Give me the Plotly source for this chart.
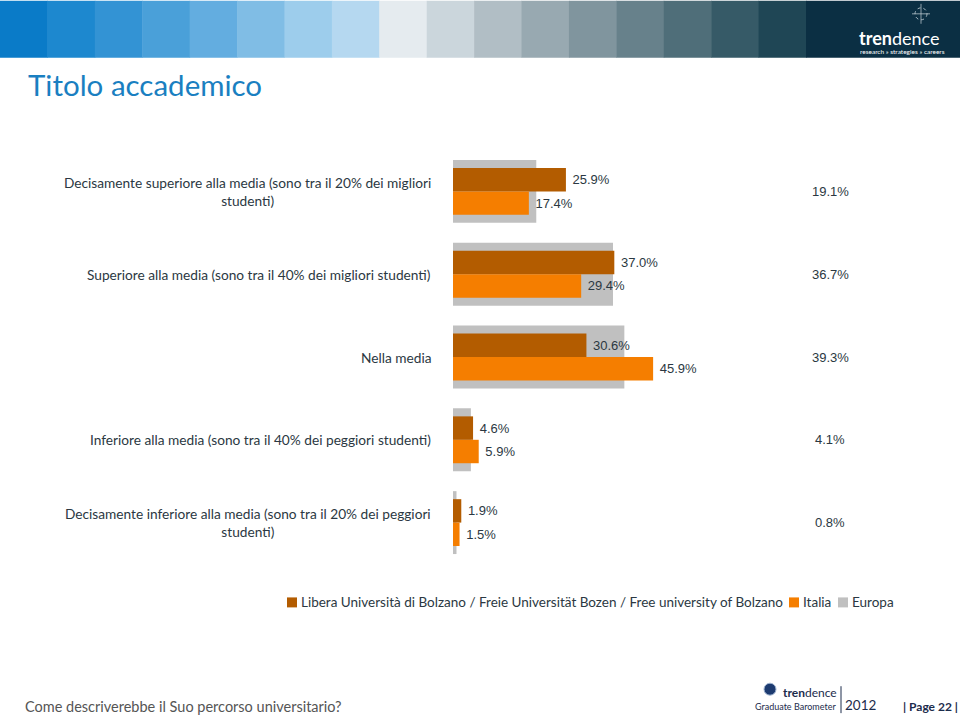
import plotly.graph_objects as go

categories = [
    "Decisamente superiore alla media (sono tra il 20% dei migliori<br>studenti)",
    "Superiore alla media (sono tra il 40% dei migliori studenti)",
    "Nella media",
    "Inferiore alla media (sono tra il 40% dei peggiori studenti)",
    "Decisamente inferiore alla media (sono tra il 20% dei peggiori<br>studenti)",
]
series_names = [
    "Libera Università di Bolzano / Freie Universität Bozen / Free university of Bolzano",
    "Italia",
    "Europa",
]
libera = [25.9, 37.0, 30.6, 4.6, 1.9]
italia = [17.4, 29.4, 45.9, 5.9, 1.5]
europa = [19.1, 36.7, 39.3, 4.1, 0.8]

C_LIB = "#B35C00"
C_ITA = "#F57E00"
C_EUR = "#C0C0C0"
TXT = "#2b3842"

W, H = 960, 717
L, R = 453, 889
T, B = 149.5, 564.5
PW, PH = R - L, B - T


def px(x):
    return (x - L) / PW


def py(y):
    return (B - y) / PH


idx = list(range(len(categories)))

fig = go.Figure()
fig.add_trace(go.Bar(
    y=idx, x=europa, orientation="h", name=series_names[2],
    marker=dict(color=C_EUR, line=dict(width=0)), width=0.76,
    hoverinfo="x", showlegend=False,
))
fig.add_trace(go.Bar(
    y=idx, x=libera, orientation="h", name=series_names[0],
    marker=dict(color=C_LIB, line=dict(width=0)), width=0.283, offset=-0.283,
    texttemplate="\u00a0%{x:.1f}%", textposition="outside", cliponaxis=False,
    textfont=dict(family="Liberation Sans, Arial", size=13, color=TXT),
    showlegend=False,
))
fig.add_trace(go.Bar(
    y=idx, x=italia, orientation="h", name=series_names[1],
    marker=dict(color=C_ITA, line=dict(width=0)), width=0.283, offset=0,
    texttemplate="\u00a0%{x:.1f}%", textposition="outside", cliponaxis=False,
    textfont=dict(family="Liberation Sans, Arial", size=13, color=TXT),
    showlegend=False,
))

annotations = []
shapes = []

# category labels
for i, c in enumerate(categories):
    annotations.append(dict(
        x=px(433), xref="paper", y=i, yref="y", text=c, showarrow=False,
        xanchor="right", yanchor="middle", align="center",
        font=dict(family="Lato", size=13.7, color=TXT),
    ))
# Europa value labels
for i, v in enumerate(europa):
    annotations.append(dict(
        x=px(830), xref="paper", y=i, yref="y", text=f"{v:.1f}%", showarrow=False,
        xanchor="center", yanchor="middle",
        font=dict(family="Liberation Sans, Arial", size=13, color=TXT),
    ))

# header stripes
stripe_colors = ["#0a7bc8", "#1d88cf", "#3393d4", "#4aa0d9", "#63ade0", "#80bde5",
                 "#9dcdec", "#b5d8f0", "#e5ebef", "#cbd6dc", "#b1bec5", "#98a9b1",
                 "#80959e", "#67818b", "#4f6e79", "#365a67", "#1f4655"]
sw = 806 / len(stripe_colors)
for k, col in enumerate(stripe_colors):
    shapes.append(dict(type="rect", xref="paper", yref="paper",
                       x0=px(k * sw), x1=px((k + 1) * sw + 0.5), y0=py(57), y1=py(0),
                       fillcolor=col, line=dict(width=0), layer="above"))
shapes.append(dict(type="rect", xref="paper", yref="paper",
                   x0=px(806), x1=px(960), y0=py(57), y1=py(0),
                   fillcolor="#0b2f43", line=dict(width=0), layer="above"))
# header logo icon
shapes.append(dict(type="circle", xref="paper", yref="paper",
                   x0=px(915), x1=px(927), y0=py(19), y1=py(7),
                   line=dict(color="#c8d4da", width=0.8, dash="dot"), layer="above"))
shapes.append(dict(type="line", xref="paper", yref="paper",
                   x0=px(921), x1=px(921), y0=py(23), y1=py(3),
                   line=dict(color="#c8d4da", width=0.7), layer="above"))
shapes.append(dict(type="line", xref="paper", yref="paper",
                   x0=px(912), x1=px(930), y0=py(13), y1=py(13),
                   line=dict(color="#c8d4da", width=0.7), layer="above"))
annotations.append(dict(x=px(857), xref="paper", y=py(37), yref="paper",
                        text="<b>tren</b>dence", showarrow=False, xanchor="left", yanchor="middle",
                        font=dict(family="Lato", size=18, color="white")))
annotations.append(dict(x=px(858), xref="paper", y=py(50.5), yref="paper",
                        text="research » strategies » careers", showarrow=False,
                        xanchor="left", yanchor="middle",
                        font=dict(family="Lato", size=6.5, color="white")))

# title
annotations.append(dict(x=px(26), xref="paper", y=py(84), yref="paper",
                        text="Titolo accademico", showarrow=False, xanchor="left", yanchor="middle",
                        font=dict(family="Lato", size=29.5, color="#1a7fc1")))

# legend (manual)
legend_items = [(series_names[0], C_LIB, 287), (series_names[1], C_ITA, 789), (series_names[2], C_EUR, 838)]
for name, col, x0 in legend_items:
    shapes.append(dict(type="rect", xref="paper", yref="paper",
                       x0=px(x0), x1=px(x0 + 10), y0=py(608), y1=py(598),
                       fillcolor=col, line=dict(width=0)))
    annotations.append(dict(x=px(x0 + 12), xref="paper", y=py(603), yref="paper",
                            text=name, showarrow=False, xanchor="left", yanchor="middle",
                            font=dict(family="Lato", size=13.5, color=TXT)))

# footer
annotations.append(dict(x=px(23), xref="paper", y=py(707), yref="paper",
                        text="Come descriverebbe il Suo percorso universitario?", showarrow=False,
                        xanchor="left", yanchor="middle",
                        font=dict(family="Lato", size=14.5, color="#555555")))
shapes.append(dict(type="circle", xref="paper", yref="paper",
                   x0=px(764), x1=px(776), y0=py(696), y1=py(684),
                   fillcolor="#1d3b70", line=dict(color="#9fb3d0", width=1)))
annotations.append(dict(x=px(781), xref="paper", y=py(693), yref="paper",
                        text="<b>tren</b>dence", showarrow=False, xanchor="left", yanchor="middle",
                        font=dict(family="Lato", size=12, color="#1c2c4c")))
annotations.append(dict(x=px(838), xref="paper", y=py(707), yref="paper",
                        text="Graduate Barometer", showarrow=False, xanchor="right", yanchor="middle",
                        font=dict(family="Lato", size=9, color="#1c2c4c")))
shapes.append(dict(type="line", xref="paper", yref="paper",
                   x0=px(841), x1=px(841), y0=py(714), y1=py(687),
                   line=dict(color="#1c2c4c", width=1)))
annotations.append(dict(x=px(843), xref="paper", y=py(706), yref="paper",
                        text="2012", showarrow=False, xanchor="left", yanchor="middle",
                        font=dict(family="Lato", size=13.5, color="#1c2c4c")))
annotations.append(dict(x=px(901), xref="paper", y=py(707), yref="paper",
                        text="<b>| Page 22 |</b>", showarrow=False, xanchor="left", yanchor="middle",
                        font=dict(family="Lato", size=12, color="#1c2c4c")))

fig.update_layout(
    width=W, height=H,
    margin=dict(l=L, r=W - R, t=T, b=H - B, pad=0),
    barmode="overlay",
    plot_bgcolor="white", paper_bgcolor="white",
    xaxis=dict(range=[0, 100], visible=False, fixedrange=True),
    yaxis=dict(range=[4.5, -0.5], showticklabels=False, showgrid=False, zeroline=False,
               showline=False, ticks="", fixedrange=True),
    annotations=annotations, shapes=shapes,
    showlegend=False,
)

fig.write_html("out.html", config={"displayModeBar": False},
               post_script="document.body.style.margin='0';document.body.style.overflow='hidden';")
